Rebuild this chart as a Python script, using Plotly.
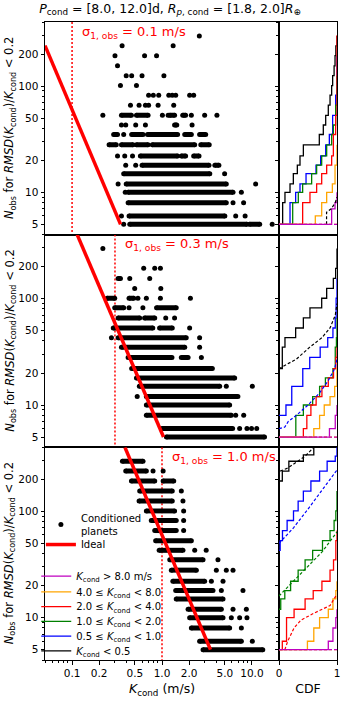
import math
import plotly.graph_objects as go
from plotly.subplots import make_subplots

# observation noise per panel (m/s)
sigma_obs = [0.1, 0.3, 1.0]

# ideal curve end points (K in m/s, N_obs)
ideal_k = [[0.05, 0.346], [0.114, 1.04], [0.387, 3.46]]
ideal_n = [[240, 5], [400, 5], [400, 5]]

# conditioned planets: isolated dots (N, K) and dense runs (N, K_from, K_to)
p1_dots = [(296, 2.6), (239, 0.36), (239, 1.33), (193, 0.30), (193, 0.64), (193, 0.87),
           (155, 0.32), (125, 0.40), (125, 0.46), (125, 0.60), (125, 1.05), (101, 0.345), (101, 0.52),
           (82, 0.71), (82, 0.80), (82, 0.92), (82, 1.19), (82, 1.30), (82, 1.42), (82, 2.03), (82, 2.25),
           (66, 0.446), (66, 0.556), (66, 0.654), (66, 0.71), (66, 0.905), (66, 1.35),
           (53, 0.22), (53, 1.01), (53, 1.17), (53, 2.12), (53, 2.98), (53, 4.08),
           (43, 0.354), (43, 0.395), (43, 0.51), (43, 0.654), (43, 2.16), (35, 0.375),
           (22, 0.32), (22, 0.385), (22, 0.47), (18, 0.395), (18, 0.51), (15, 4.97),
           (12, 0.325), (12, 11.0), (10, 0.39), (10, 7.63), (8, 6.16), (8, 8.08),
           (6, 0.354), (6, 6.6), (6, 8.4), (5, 0.375), (5, 16.8)]
p1_runs = [(53, 0.354, 0.457), (53, 0.52, 0.70), (53, 1.22, 1.38), (53, 1.70, 1.83), (43, 1.38, 1.46),
           (35, 0.29, 0.32), (35, 0.46, 0.615), (35, 0.69, 1.49), (35, 1.79, 2.12), (35, 2.62, 3.06),
           (28, 0.258, 0.31), (28, 0.354, 0.476), (28, 0.52, 0.70), (28, 0.78, 2.31), (28, 2.7, 3.35),
           (22, 0.575, 1.49), (22, 1.64, 1.83), (22, 2.25, 2.58), (18, 0.60, 3.33), (18, 3.87, 4.29),
           (15, 0.375, 3.4), (12, 0.40, 5.19), (10, 0.42, 6.16), (8, 0.42, 5.19), (6, 0.43, 5.0),
           (5, 0.438, 8.8), (5, 9.4, 12.2)]

p2_dots = [(296, 0.22), (193, 0.626), (193, 0.83), (193, 0.96), (155, 0.438), (155, 0.73),
           (125, 0.497), (125, 0.97), (101, 0.54), (101, 0.67), (101, 0.96), (101, 2.07),
           (82, 0.43), (82, 0.613), (66, 1.1), (66, 1.38), (53, 2.03), (43, 0.274), (43, 2.62),
           (35, 2.62), (28, 2.74), (15, 5.19), (15, 10.1), (12, 0.53), (8, 6.6), (8, 8.1),
           (6, 7.3), (6, 8.8), (6, 9.9), (6, 11.3)]
p2_runs = [(155, 0.325, 0.345), (101, 0.245, 0.298), (101, 0.43, 0.485), (82, 0.298, 0.375),
           (82, 0.87, 1.44), (66, 0.325, 0.565), (66, 0.64, 0.83), (53, 0.287, 0.79), (53, 0.94, 1.3),
           (43, 0.325, 1.86), (35, 0.354, 1.79), (28, 0.42, 1.29), (28, 1.64, 1.95), (22, 0.46, 3.63),
           (18, 0.52, 6.43), (15, 0.56, 4.38), (12, 0.67, 6.98), (10, 0.67, 5.65), (8, 0.67, 5.9),
           (6, 1.0, 6.1), (5, 1.12, 13.8)]

p3_dots = [(239, 0.795), (239, 1.03), (155, 1.64), (125, 1.71), (101, 1.74), (82, 1.74), (66, 1.74),
           (43, 2.31), (43, 3.1), (35, 4.19), (28, 4.02), (28, 5.19), (28, 6.16), (22, 3.54), (22, 4.77),
           (18, 4.57), (18, 7.95), (12, 6.16), (12, 8.67), (10, 5.9), (10, 7.3), (10, 8.8), (8, 7.63),
           (6, 10.1)]
p3_runs = [(296, 0.363, 0.615), (239, 0.395, 0.67), (193, 0.457, 0.83), (193, 1.03, 1.35),
           (155, 0.565, 1.3), (125, 0.556, 1.3), (101, 0.67, 1.38), (82, 0.76, 1.44), (66, 0.83, 1.44),
           (53, 0.85, 2.12), (43, 0.93, 1.71), (35, 1.22, 2.86), (28, 1.27, 2.41), (22, 1.32, 2.98),
           (18, 1.42, 3.69), (15, 1.44, 4.77), (12, 1.95, 4.57), (10, 2.03, 4.77), (8, 2.12, 5.65),
           (6, 2.62, 7.63), (5, 2.86, 13.2)]

# K bins, in order: <0.5, 0.5-1, 1-2, 2-4, 4-8, >8
bin_labels = ["<i>K</i><sub>cond</sub> &lt; 0.5",
              "0.5 ≤ <i>K</i><sub>cond</sub> &lt; 1.0",
              "1.0 ≤ <i>K</i><sub>cond</sub> &lt; 2.0",
              "2.0 ≤ <i>K</i><sub>cond</sub> &lt; 4.0",
              "4.0 ≤ <i>K</i><sub>cond</sub> &lt; 8.0",
              "<i>K</i><sub>cond</sub> &gt; 8.0 m/s"]
bin_colors = ["black", "#0000ff", "#008000", "#ff0000", "#ffa500", "#bf00bf"]

# CDF staircases (cdf, N) per bin
cdf1_x = [[0, 0.063, 0.103, 0.19, 0.247, 0.316, 0.362, 0.42, 0.695, 0.764, 0.805, 0.85, 0.88, 0.908, 0.925, 0.95, 0.966, 0.98, 1.0],
          [0, 0.19, 0.287, 0.362, 0.466, 0.638, 0.718, 0.805, 0.868, 0.925, 0.977, 1.0],
          [0, 0.236, 0.333, 0.408, 0.563, 0.649, 0.736, 0.822, 0.908, 0.937, 0.977, 1.0],
          [0, 0.408, 0.534, 0.649, 0.736, 0.822, 0.908, 0.937, 0.977, 1.0],
          [0, 0.626, 0.736, 0.822, 0.92, 0.966, 1.0],
          [0, 0.908, 0.966, 1.0]]
cdf1_n = [[5, 8, 10, 12, 15, 18, 22, 28, 35, 43, 53, 66, 82, 101, 125, 155, 193, 239, 296],
          [5, 8, 10, 12, 15, 18, 22, 28, 35, 53, 82, 193],
          [5, 8, 10, 12, 15, 18, 22, 28, 35, 43, 66, 125],
          [5, 8, 10, 12, 15, 18, 22, 35, 53, 300],
          [5, 6, 8, 10, 12, 18, 28],
          [5, 7, 8, 10]]
cdf2_x = [[0, 0.057, 0.103, 0.287, 0.42, 0.534, 0.736, 0.822, 0.937, 0.977, 1.0],
          [0, 0.12, 0.22, 0.41, 0.53, 0.71, 0.84, 0.93, 0.97, 0.985, 1.0],
          [0, 0.29, 0.42, 0.58, 0.7, 0.8, 0.93, 0.97, 0.99, 1.0],
          [0, 0.42, 0.48, 0.55, 0.64, 0.74, 0.85, 0.94, 0.98, 1.0],
          [0, 0.6, 0.7, 0.78, 0.88, 0.96, 1.0],
          [0, 0.87, 0.97, 1.0]]
cdf2_n = [[22, 35, 43, 53, 66, 82, 101, 125, 155, 193, 296],
          [8, 10, 15, 22, 28, 35, 43, 53, 66, 101, 155],
          [5, 8, 10, 12, 15, 18, 22, 35, 43, 66],
          [5, 6, 8, 10, 12, 15, 18, 22, 28, 35],
          [5, 6, 8, 10, 12, 15, 22],
          [5, 6, 8, 10]]
cdf3_x = [[0, 0.057, 0.17, 0.42, 0.6],
          [0, 0.02, 0.06, 0.14, 0.25, 0.33, 0.42, 0.55, 0.7, 0.83, 0.97, 1.0],
          [0, 0.03, 0.1, 0.2, 0.33, 0.45, 0.58, 0.75, 0.88, 0.95, 0.98, 1.0],
          [0, 0.057, 0.13, 0.26, 0.45, 0.59, 0.74, 0.88, 0.94, 0.98, 1.0],
          [0, 0.49, 0.6, 0.7, 0.85, 0.93, 0.98, 1.0],
          [0, 0.85, 0.93, 0.98, 1.0]]
cdf3_n = [[193, 239, 296, 340, 420],
          [43, 53, 66, 82, 101, 125, 155, 193, 239, 296, 330, 400],
          [12, 15, 18, 22, 28, 35, 43, 53, 66, 82, 101, 155],
          [5, 6, 10, 12, 15, 18, 22, 28, 35, 53, 66],
          [5, 6, 8, 10, 12, 15, 18, 22],
          [5, 6, 8, 10, 12]]

# expected CDFs (dashed): (bin index, cdf values, N values)
exp1 = [(0, [0.82, 0.82, 0.9, 0.97, 1.0], [5, 6.5, 7, 8, 9]),
        (4, [0, 1], [5, 5]), (5, [0, 1], [5, 5])]
exp2 = [(0, [0, 0.1, 0.3, 0.53, 0.74, 0.88, 0.97, 1.0], [22, 23.5, 27, 35, 43, 53, 70, 90]),
        (1, [0, 0.1, 0.16, 0.3, 0.5, 0.7, 0.85, 0.96, 1.0], [6, 6.2, 7, 8, 10, 13, 17, 22, 27]),
        (4, [0, 1], [5, 5]), (5, [0, 1], [5, 5])]
exp3 = [(0, [0.02, 0.15, 0.3, 0.45, 0.6], [239, 255, 290, 330, 400]),
        (1, [0, 0.25, 0.5, 0.75, 1.0], [50, 70, 105, 160, 245]),
        (2, [0, 0.25, 0.5, 0.75, 1.0], [16, 22, 30, 42, 64]),
        (3, [0.1, 0.15, 0.26, 0.38, 0.6, 0.88, 0.98], [5, 6, 8, 9.5, 11, 13, 16]),
        (4, [0, 1], [5, 5]), (5, [0, 1], [5, 5])]

FONT = "DejaVu Sans"
PLOT_TOP, PLOT_H = 22, 648


def paper_y(px):
    # pixel row (from top of page) -> paper fraction
    return (PLOT_TOP + PLOT_H - px) / PLOT_H


fig = make_subplots(rows=3, cols=2, column_widths=[234, 58],
                    horizontal_spacing=0, vertical_spacing=0)

panels = [(p1_dots, p1_runs, cdf1_x, cdf1_n, exp1),
          (p2_dots, p2_runs, cdf2_x, cdf2_n, exp2),
          (p3_dots, p3_runs, cdf3_x, cdf3_n, exp3)]

# legend rows (pixel centre) for the K-bin entries, top to bottom: >8 ... <0.5
bin_legend_rows = {5: 582, 4: 598, 3: 613, 2: 628, 1: 643, 0: 658}

for i, (dots, runs, cx, cn, exp) in enumerate(panels):
    row = i + 1
    last = row == 3
    sig = sigma_obs[i]

    # sigma marker
    fig.add_trace(go.Scatter(x=[sig, sig], y=[3, 500], mode="lines",
                             line=dict(color="red", width=1.5, dash="2px,2px"),
                             showlegend=False, hoverinfo="skip"), row=row, col=1)

    # dense runs of planets
    rx, ry = [], []
    for n, k0, k1 in runs:
        rx += [k0, k1, None]
        ry += [n, n, None]
    fig.add_trace(go.Scatter(x=rx, y=ry, mode="lines+markers",
                             line=dict(color="black", width=5),
                             marker=dict(color="black", size=5),
                             showlegend=False, hoverinfo="skip"), row=row, col=1)
    fig.add_trace(go.Scatter(x=[d[1] for d in dots], y=[d[0] for d in dots], mode="markers",
                             marker=dict(color="black", size=5),
                             name="Conditioned<br>planets", legend="legend",
                             showlegend=last), row=row, col=1)

    fig.add_trace(go.Scatter(x=ideal_k[i], y=ideal_n[i], mode="lines",
                             line=dict(color="red", width=3.5),
                             name="Ideal", legend="legend2", showlegend=last), row=row, col=1)

    xa = f"x{2*i+1}" if i else "x"
    ya = f"y{2*i+1}" if i else "y"
    fig.add_annotation(x=math.log10(sig) + 0.085, y=0.952, xref=xa, yref=f"{ya} domain",
                       text=f"σ<sub>1, obs</sub> = {sig} m/s", showarrow=False,
                       xanchor="left", yanchor="middle",
                       font=dict(family=FONT, size=13, color="red"))

    # CDF panel
    for b in range(6):
        fig.add_trace(go.Scatter(x=cx[b], y=cn[b], mode="lines", line_shape="hv",
                                 line=dict(color=bin_colors[b], width=1.3),
                                 name=bin_labels[b], legend=f"legend{3 + b}",
                                 showlegend=last), row=row, col=2)
    for b, ex, en in exp:
        fig.add_trace(go.Scatter(x=ex, y=en, mode="lines",
                                 line=dict(color=bin_colors[b], width=1.2, dash="3px,2px"),
                                 showlegend=False, hoverinfo="skip"), row=row, col=2)

    # y-axis title for this row
    fig.add_annotation(x=-0.121, y=(2.5 - i) / 3, xref="paper", yref="paper",
                       text="<i>N</i><sub>obs</sub> for <i>RMSD</i>(<i>K</i><sub>cond</sub>)/<i>K</i><sub>cond</sub> &lt; 0.2",
                       textangle=-90, showarrow=False, xanchor="center", yanchor="middle",
                       font=dict(family=FONT, size=11.5, color="black"))

y_minor = [4, 6, 7, 8, 9, 30, 40, 60, 70, 80, 90, 300, 400]
x_minor = [0.05, 0.06, 0.07, 0.08, 0.09, 0.3, 0.4, 0.6, 0.7, 0.8, 0.9, 3, 4, 6, 7, 8, 9, 20]
axis_common = dict(showline=True, mirror=True, linecolor="black", linewidth=1,
                   showgrid=False, zeroline=False, ticklen=3.5, tickcolor="black",
                   tickfont=dict(family=FONT, size=10.5, color="black"))

for row in range(1, 4):
    last = row == 3
    fig.update_xaxes(type="log", range=[math.log10(0.05), math.log10(20)],
                     tickvals=[0.1, 0.2, 0.5, 1, 2, 5, 10],
                     ticktext=["0.1", "0.2", "0.5", "1.0", "2.0", "5.0", "10.0"],
                     showticklabels=last, ticks="outside" if last else "",
                     minor=dict(tickvals=x_minor, ticks="outside" if last else "", ticklen=2,
                                tickcolor="black"),
                     row=row, col=1, **axis_common)
    fig.update_xaxes(range=[0, 1], tickvals=[0, 1], ticktext=["0", "1"],
                     showticklabels=last, ticks="outside" if last else "",
                     row=row, col=2, **axis_common)
    fig.update_yaxes(type="log", range=[math.log10(4), math.log10(400)],
                     tickvals=[5, 10, 20, 50, 100, 200], ticks="outside",
                     minor=dict(tickvals=y_minor, ticks="outside", ticklen=2, tickcolor="black"),
                     row=row, col=1, **axis_common)
    fig.update_yaxes(type="log", range=[math.log10(4), math.log10(400)],
                     tickvals=[5, 10, 20, 50, 100, 200], showticklabels=False, ticks="outside",
                     minor=dict(tickvals=y_minor, ticks="outside", ticklen=2, tickcolor="black"),
                     row=row, col=2, **axis_common)

fig.update_xaxes(title=dict(text="<i>K</i><sub>cond</sub> (m/s)", font=dict(family=FONT, size=12.5),
                            standoff=6), row=3, col=1)
fig.update_xaxes(title=dict(text="CDF", font=dict(family=FONT, size=12.5), standoff=6),
                 row=3, col=2)

legends = dict(
    legend=dict(x=-0.014, y=paper_y(528 - 15.5), xanchor="left", yanchor="top",
                bgcolor="rgba(0,0,0,0)", font=dict(family=FONT, size=10)),
    legend2=dict(x=-0.014, y=paper_y(550 - 12), xanchor="left", yanchor="top",
                 bgcolor="rgba(0,0,0,0)", font=dict(family=FONT, size=10)),
)
for b, yc in bin_legend_rows.items():
    legends[f"legend{3 + b}"] = dict(x=-0.03, y=paper_y(yc - 12), xanchor="left", yanchor="top",
                                     bgcolor="rgba(0,0,0,0)", font=dict(family=FONT, size=10))

fig.update_layout(
    width=352, height=706,
    margin=dict(l=45, r=15, t=22, b=36),
    plot_bgcolor="white", paper_bgcolor="white",
    font=dict(family=FONT, size=11, color="black"),
    title=dict(text="<i>P</i><sub>cond</sub> = [8.0, 12.0]d, <i>R</i><sub><i>p</i>, cond</sub> = [1.8, 2.0]<i>R</i><sub>⊕</sub>",
               x=0.483, xanchor="center", y=0.988, yanchor="middle",
               font=dict(family=FONT, size=12.5, color="black")),
    hovermode=False,
    **legends,
)

fig.write_html("out.html", config={"displayModeBar": False},
               post_script="document.body.style.margin='0';")
